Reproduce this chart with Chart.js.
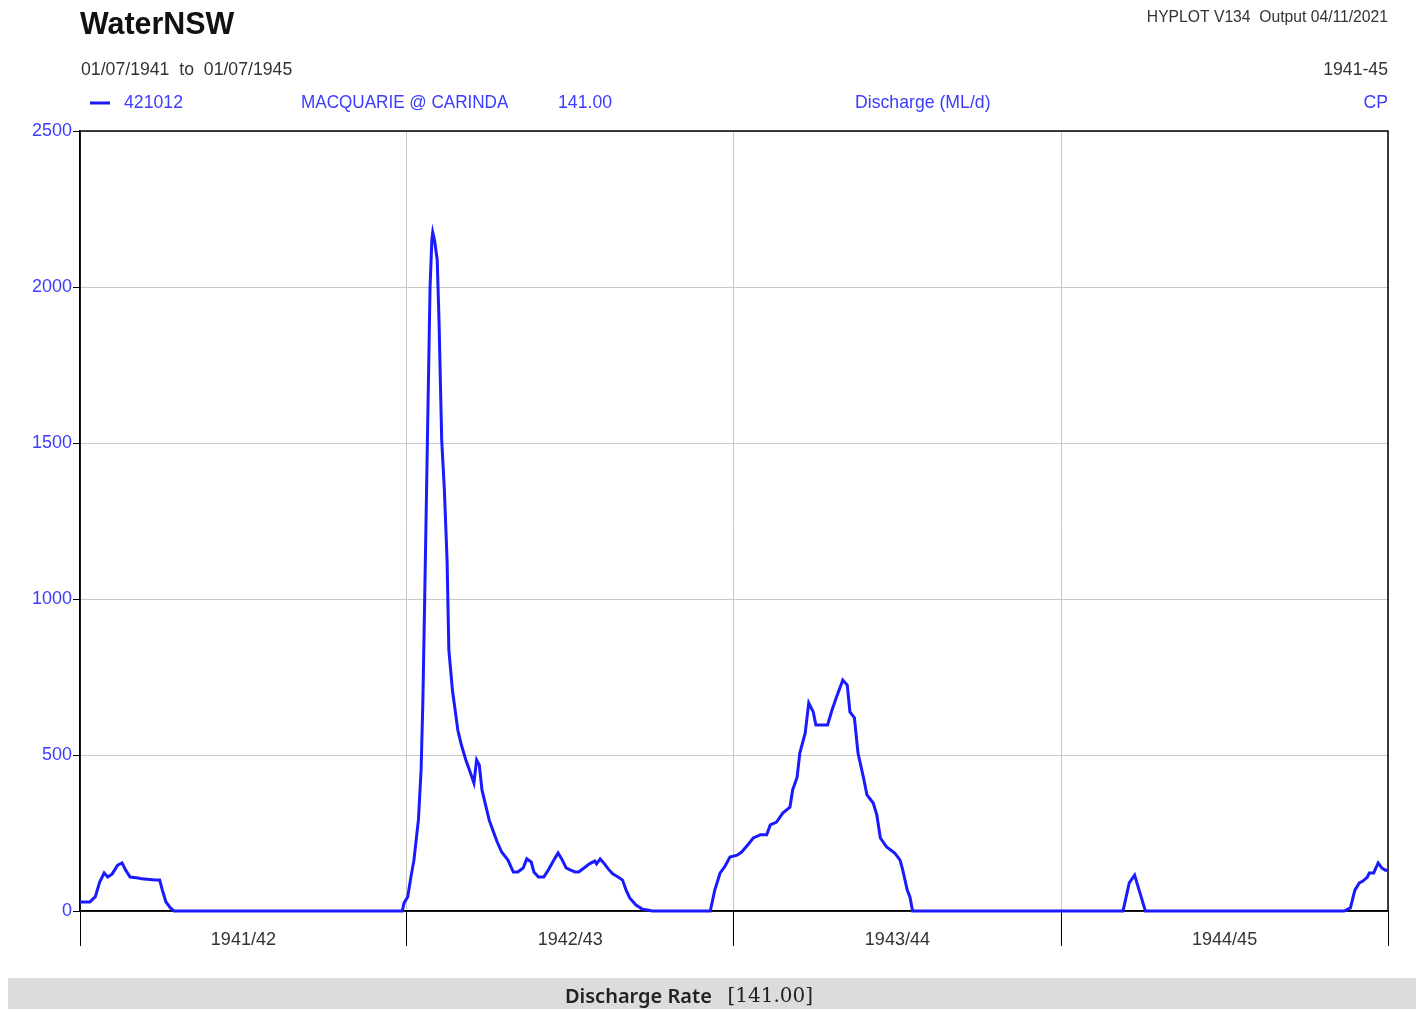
<!DOCTYPE html>
<html lang="en">
<head>
    <meta charset="UTF-8">
    <title>WaterNSW - 421012 Macquarie @ Carinda</title>
    <script src="https://cdn.jsdelivr.net/npm/chart.js"></script>
    <style>
        body { margin: 0; background: #fff; }
        #wrap { position: relative; width: 1416px; height: 1009px; }
    </style>
</head>
<body>
    <div id="wrap"><canvas id="myChart"></canvas></div>
    <script>
        // Days since 01/07/1941 and daily discharge (ML/d)
        const days = [0, 11, 17, 22, 27, 31, 36, 42, 47, 51, 56, 65, 69, 84, 89, 92, 96, 101, 105,
            360, 362, 366, 370, 373, 378, 381, 383, 385, 388, 391, 393, 394, 396, 399, 401, 404, 407, 410, 412,
            416, 419, 422, 426, 431, 435, 440, 443, 446, 449, 453, 457, 461, 466, 471, 478, 484, 489, 495,
            499, 504, 507, 512, 518, 523, 528, 534, 538, 543, 548, 553, 557, 563, 569, 575, 577, 581, 585,
            590, 595, 601, 606, 610, 614, 621, 628, 634, 639,
            704, 709, 715, 720, 726, 734, 739, 746, 752, 760, 767, 771, 778, 785, 793, 796, 801, 804, 810,
            814, 819, 822, 835, 840, 845, 852, 857, 860, 865, 869, 875, 879, 886, 890, 894, 901, 910, 916,
            919, 924, 927, 930,
            1165, 1172, 1178, 1183, 1190,
            1412, 1419, 1424, 1429, 1433, 1438, 1440, 1445, 1450, 1454, 1458, 1461];
        const discharge = [29, 29, 45, 93, 122, 109, 119, 147, 154, 131, 109, 106, 103, 99, 99, 67, 29, 10, 0,
            0, 26, 45, 115, 163, 292, 452, 676, 1000, 1500, 2000, 2150, 2175, 2150, 2087, 1894, 1510, 1349, 1125, 837,
            708, 644, 580, 532, 484, 452, 410, 484, 468, 388, 340, 292, 260, 221, 189, 163, 125, 125, 138,
            167, 157, 125, 109, 109, 131, 157, 186, 167, 138, 131, 125, 125, 138, 151, 160, 151, 167, 154,
            135, 119, 109, 99, 67, 42, 19, 6, 3, 0,
            0, 67, 122, 141, 173, 179, 189, 212, 234, 244, 244, 276, 285, 314, 333, 388, 429, 506, 570,
            667, 638, 596, 596, 644, 686, 740, 724, 638, 619, 506, 429, 372, 346, 308, 234, 205, 186, 163,
            131, 67, 45, 0,
            0, 90, 115, 67, 0,
            0, 10, 67, 90, 96, 109, 122, 122, 154, 138, 131, 131];

        // Water-year boundaries (days) and their labels
        const yearBounds = [0, 365, 730, 1096, 1461];
        const yearLabels = ['1941/42', '1942/43', '1943/44', '1944/45'];
        const yTicks = [0, 500, 1000, 1500, 2000, 2500];

        const sans = "'Liberation Sans', Arial, sans-serif";
        const blue = '#3c3cff';

        // boundaries plus midpoints (midpoints carry the year labels)
        const xTickValues = [];
        yearBounds.forEach((b, i) => {
            xTickValues.push(b);
            if (i < yearLabels.length) xTickValues.push((b + yearBounds[i + 1]) / 2);
        });
        const isBound = v => yearBounds.includes(v);

        // squeezed text, the original uses a narrow face
        function narrowText(ctx, txt, x, y, sx) {
            ctx.save();
            ctx.translate(x, y);
            ctx.scale(sx, 1);
            ctx.fillText(txt, 0, 0);
            ctx.restore();
        }

        const headerPlugin = {
            id: 'headerPlugin',
            beforeDatasetsDraw: (chart) => {
                const { ctx, chartArea: a } = chart;
                ctx.save();
                ctx.strokeStyle = '#000';
                ctx.lineWidth = 1.5;
                ctx.strokeRect(a.left, a.top, a.right - a.left, a.bottom - a.top);
                ctx.restore();
            },
            afterDraw: (chart) => {
                const { ctx, chartArea: a } = chart;
                ctx.save();
                ctx.textBaseline = 'middle';

                ctx.fillStyle = '#111';
                ctx.font = 'bold 32px ' + sans;
                ctx.textAlign = 'left';
                narrowText(ctx, 'WaterNSW', a.left, 25, 0.95);

                ctx.fillStyle = '#333';
                ctx.font = '19px ' + sans;
                narrowText(ctx, '01/07/1941  to  01/07/1945', a.left + 1, 70, 0.93);

                ctx.textAlign = 'right';
                narrowText(ctx, '1941-45', a.right, 70, 0.93);
                ctx.font = '16px ' + sans;
                narrowText(ctx, 'HYPLOT V134  Output 04/11/2021', a.right, 18, 0.98);

                // legend row
                ctx.fillStyle = blue;
                ctx.font = '19px ' + sans;
                narrowText(ctx, 'CP', a.right, 103, 0.93);
                ctx.textAlign = 'left';
                narrowText(ctx, '421012', 124, 103, 0.93);
                narrowText(ctx, 'MACQUARIE @ CARINDA', 301, 103, 0.9);
                narrowText(ctx, '141.00', 558, 103, 0.93);
                narrowText(ctx, 'Discharge (ML/d)', 855, 103, 0.93);
                ctx.strokeStyle = '#1a1aff';
                ctx.lineWidth = 3;
                ctx.beginPath();
                ctx.moveTo(90, 103);
                ctx.lineTo(110, 103);
                ctx.stroke();

                // bottom bar
                ctx.fillStyle = '#dcdcdc';
                ctx.fillRect(8, 978, chart.width - 8, chart.height - 978);
                ctx.fillStyle = '#222';
                const f1 = "600 20px 'Noto Sans', 'DejaVu Sans', sans-serif";
                const f2 = "20px 'DejaVu Serif', serif";
                const t1 = 'Discharge Rate   ';
                const t2 = '[141.00]';
                ctx.font = f1;
                const w1 = ctx.measureText(t1).width;
                ctx.font = f2;
                const w2 = ctx.measureText(t2).width;
                const x0 = 689 - (w1 + w2) / 2;
                ctx.fillText(t2, x0 + w1, 997);
                ctx.font = f1;
                ctx.fillText(t1, x0, 997);
                ctx.restore();
            }
        };

        Chart.register(headerPlugin);

        const ctx = document.getElementById('myChart').getContext('2d');
        const chart = new Chart(ctx, {
            type: 'line',
            data: {
                datasets: [{
                    label: '421012',
                    data: days.map((d, i) => ({ x: d, y: discharge[i] })),
                    borderColor: '#1a1aff',
                    borderWidth: 3,
                    pointRadius: 0,
                    tension: 0,
                    fill: false,
                    clip: 4
                }]
            },
            options: {
                responsive: true,
                maintainAspectRatio: false,
                animation: false,
                layout: { padding: { top: 131, right: 28, left: 0, bottom: 0 } },
                plugins: { legend: { display: false }, tooltip: { enabled: false } },
                scales: {
                    x: {
                        type: 'linear',
                        min: 0,
                        max: 1461,
                        afterBuildTicks: (s) => { s.ticks = xTickValues.map(v => ({ value: v })); },
                        afterFit: (s) => { s.height = 98; },
                        ticks: {
                            autoSkip: false,
                            maxRotation: 0,
                            padding: -17,
                            color: '#333',
                            font: { family: sans, size: 18 },
                            callback: (v) => isBound(v) ? '' : yearLabels[yearBounds.filter(b => b < v).length - 1]
                        },
                        grid: {
                            color: (c) => (c.tick && isBound(c.tick.value)) ? '#c8c8c8' : 'rgba(0,0,0,0)',
                            tickColor: (c) => (c.tick && isBound(c.tick.value)) ? '#000' : 'rgba(0,0,0,0)',
                            tickLength: 35,
                            lineWidth: 1
                        },
                        border: { color: '#000', width: 1.5 }
                    },
                    y: {
                        min: 0,
                        max: 2500,
                        afterBuildTicks: (s) => { s.ticks = yTicks.map(v => ({ value: v })); },
                        afterFit: (s) => { s.width = 80; },
                        ticks: {
                            color: blue,
                            padding: 1,
                            font: { family: sans, size: 18 },
                            callback: (v) => String(v)
                        },
                        grid: {
                            color: '#c8c8c8',
                            tickColor: '#000',
                            tickLength: 7,
                            lineWidth: 1
                        },
                        border: { color: '#000', width: 1.5 }
                    }
                }
            }
        });
    </script>
</body>
</html>
